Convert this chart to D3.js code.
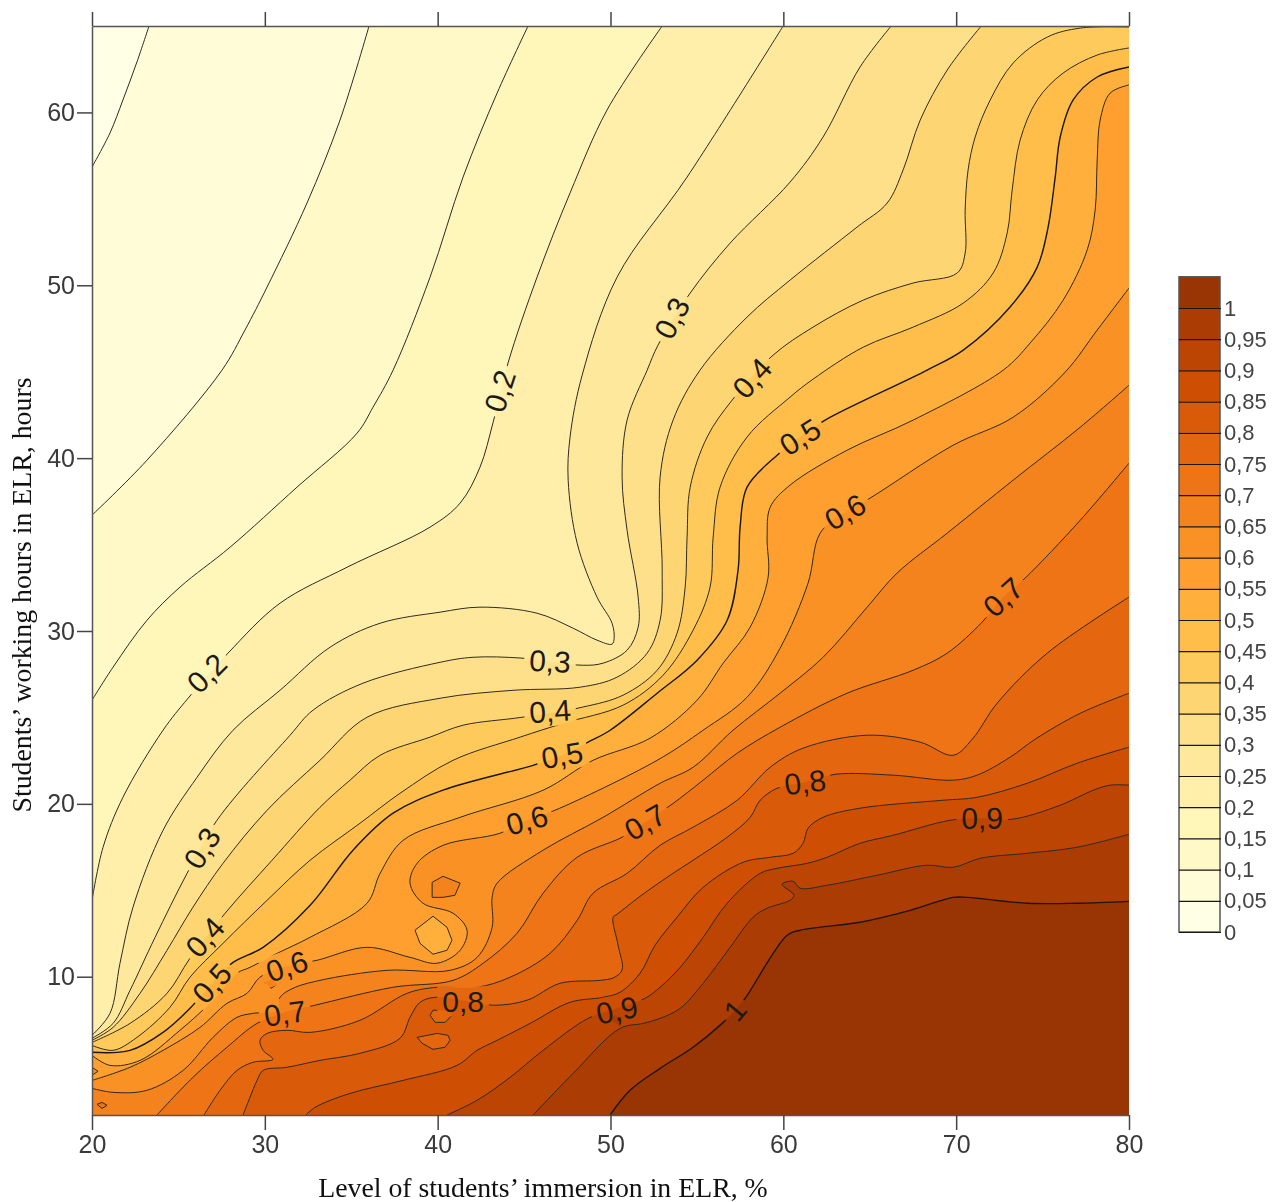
<!DOCTYPE html>
<html>
<head>
<meta charset="utf-8">
<script src="https://cdn.jsdelivr.net/npm/d3@7"></script>
<style>
    html, body { margin: 0; padding: 0; background: #fff; }
    svg { display: block; filter: blur(0.45px); }
    .tick text { font-family: "Liberation Sans", Arial, sans-serif; }
    .contour { fill: none; stroke: #2e2a22; stroke-width: 1; }
    .contour.major { stroke: #1a1510; stroke-width: 1.4; }
    .clabel { font-family: "Liberation Sans", Arial, sans-serif; font-size: 30px; fill: #1d1a16; text-anchor: middle; dominant-baseline: central; }
    .axis-title { font-family: "Liberation Serif", "Times New Roman", serif; font-size: 27.8px; fill: #111; text-anchor: middle; }
</style>
</head>
<body>
<svg id="chart" width="1281" height="1202"></svg>
<script>
// Contour lines, [immersion %, working hours]
const line005 = [[20,56.84],[21.04,58.81],[21.79,60.72],[22.6,62.92],[23.3,65]];
const line010 = [[20,36.7],[23.18,39.88],[27.52,45.09],[28.85,47.41],[30.13,49.9],[32.44,54.76],[34.35,59.56],[36.03,65]];
const line015 = [[20,26],[21.22,27.91],[23.18,30.62],[25.09,32.54],[27.99,34.85],[31.86,38.32],[35.34,41.45],[36.26,42.95],[37.42,45.09],[39.56,50.47],[41.47,56.26],[43.44,61.12],[45.23,65]];
const line020 = [[20,14.42],[20.64,17.49],[21.79,20.38],[24.11,24.26],[25.56,26.11],[27.87,28.72],[30.88,31.61],[34.76,33.69],[39.56,36.01],[41.3,37.4],[42.45,39.48],[43.21,42.08],[44.07,45.5],[45.75,50.47],[47.66,55.34],[49.8,60.14],[52.99,65]];
const line025 = [[20,6.61],[21.04,7.88],[21.62,10.78],[22.37,14.02],[24.11,18.47],[26.08,21.54],[28.16,24.26],[30.88,26.57],[33.77,29.06],[36.67,30.45],[40.14,31.09],[42.45,31.38],[45.75,31.03],[47.84,30.16],[49.22,29.47],[50.09,29.24],[50.21,29.58],[50.09,30.45],[49.22,31.96],[48.07,35.08],[47.55,38.73],[47.66,41.22],[48.36,44.8],[50.38,50.47],[54.43,56.26],[59.99,65]];
const line030 = [[20,6.44],[21.22,7.3],[22.2,9.21],[23.65,12.28],[25.5,15.98],[27.23,19.05],[31.46,23.97],[32.79,25.42],[35.68,26.98],[40.14,28.19],[42.05,28.48],[44.88,28.43],[48.36,28.02],[49.57,28.14],[50.96,28.89],[51.6,30.22],[51.6,31.96],[50.96,35.83],[50.67,38.9],[50.96,42.2],[52.12,45.09],[52.75,46.54],[54.61,49.55],[56.92,52.44],[60.39,55.97],[62.3,58.58],[64.44,62.63],[66.24,65]];
const line035 = [[20,6.32],[21.22,7.07],[22.78,9.04],[24.34,11.53],[25.84,14.02],[27.58,16.56],[30.13,19.63],[33.19,22.52],[35.91,25.01],[40.14,26.11],[44.36,26.57],[48.24,26.75],[50.38,27.33],[52.12,28.72],[52.87,30.62],[52.99,33.52],[52.87,38.9],[53.62,42.2],[55.18,45.09],[57.9,48.16],[60.39,50.3],[64.27,53.37],[66.01,54.76],[66.93,56.67],[67.92,59.56],[69.48,62.45],[71.45,65]];
const line040 = [[20,6.2],[22.2,7.3],[24.34,9.04],[25.67,11.07],[27.7,13.67],[30.42,16.74],[33.19,19.8],[34.93,21.37],[36.67,22.81],[39.56,23.86],[41.47,24.55],[44.88,25.01],[48.36,25.59],[50.73,26.29],[52.7,27.73],[53.85,29.87],[54.32,32.54],[54.43,35.43],[54.61,38.32],[55.59,41.22],[57.04,43.36],[59.41,45.96],[61.72,47.58],[64.62,49.14],[67.51,50.13],[70.06,50.71],[70.52,51.86],[70.52,54.35],[70.69,56.67],[71.1,58.58],[71.97,60.72],[73.3,62.86],[75.27,64.36],[77.18,64.88],[80,64.94]];
const line045 = [[20,6.03],[21.22,5.74],[22.6,6.49],[24.51,8.23],[25.67,9.97],[27.58,11.93],[30.13,14.42],[32.62,16.74],[35.51,18.88],[37.82,20.61],[40.89,22.52],[44.77,23.86],[47.26,24.66],[50.73,25.71],[53.04,27.44],[54.78,30.05],[55.76,32.54],[55.94,35.43],[56.34,38.32],[57.9,41.22],[60.39,43.53],[61.72,44.57],[64.62,46.42],[67.51,47.58],[70.41,48.97],[72.14,50.71],[72.95,53.02],[73.24,55.51],[73.7,58.4],[74.69,60.72],[76.19,62.28],[78.16,63.32],[80,63.73]];
const line050 = [[20,5.63],[22.2,5.74],[24.11,6.78],[25.67,8.17],[26.94,9.62],[28.16,10.83],[29.9,11.7],[32.62,14.13],[35.1,17.32],[37.42,19.46],[40.31,20.79],[45.52,22.23],[47.2,22.81],[48.7,23.57],[49.98,24.26],[52.7,26.4],[55.01,28.31],[56.75,30.62],[57.38,33.52],[57.5,36.01],[57.9,38.32],[59.64,40.17],[60.97,41.22],[62.42,42.2],[68.32,45.09],[70.41,46.25],[73.12,48.74],[74.69,51.05],[75.32,53.37],[75.73,56.26],[76.02,58.58],[76.77,60.72],[78.16,62.05],[80,62.63]];
const line055 = [[20,5.45],[21.04,4.87],[22.78,5.16],[25.09,6.9],[27,8.64],[28.39,10.2],[29.14,10.54],[30.71,11.35],[32.62,12.28],[35.91,14.25],[36.67,15.98],[38,17.89],[41.3,19.22],[46.1,20.79],[48.99,22.52],[52.29,23.8],[55.01,26],[56.52,28.14],[58.08,30.22],[59.12,33.11],[59.06,35.43],[59.24,37.16],[60.39,38.44],[63.69,40.46],[67.51,42.2],[72.72,45.09],[74.28,46.66],[76.19,49.14],[77.58,52.04],[78.04,54.35],[78.16,57.25],[78.33,59.56],[78.91,61.12],[80,61.59]];
const line060 = [[20,4],[22.2,4.76],[24.11,5.74],[26.25,7.07],[27.81,8.46],[28.97,9.04],[29.72,9.97],[31.28,10.6],[33.02,10.95],[35.91,11.7],[38.4,11.12],[39.97,10.78],[41.3,11.53],[41.7,12.69],[40.89,13.67],[39.15,14.25],[38.4,15.41],[38.81,16.56],[40.31,17.6],[43.61,18.3],[45.17,19.05],[46.79,19.63],[52.7,22.52],[55.36,24.26],[57.9,26.17],[59.81,29],[61.43,32.77],[62.13,35.66],[63.58,36.88],[65.02,37.69],[69.83,40.75],[73.3,42.37],[76.31,44.98],[78.16,47.41],[80,49.84]];
const line065 = [[20,3.54],[21.22,3.31],[23.18,3.43],[25.27,4.58],[27,6.49],[28.39,7.65],[29.32,7.88],[30.71,8.06],[30.88,8.81],[31.63,9.33],[33.19,9.79],[37.07,10.37],[40.72,10.37],[42.28,11.12],[43.15,12.86],[43.15,14.59],[43.44,15.41],[46.1,17.32],[49.57,19.22],[52.87,21.19],[54.78,22.12],[57.09,24.26],[59.81,26.4],[62.3,28.48],[64.85,31.38],[66.58,33.35],[69.48,35.66],[73.3,38.73],[77.18,41.79],[80,44.22]];
const line070 = [[23.76,2],[25.84,4.18],[27.81,5.92],[29.55,7.3],[31.17,7.94],[32.9,8.35],[37.42,9.39],[40.89,9.79],[42.63,10.78],[44.59,12.51],[46.1,14.83],[48.07,16.91],[50.67,18.07],[52,18.94],[53.56,19.98],[55.36,21.37],[57.33,22.93],[59.81,24.43],[63.69,26.4],[67.51,27.73],[69.48,28.72],[71.5,30.51],[72.72,31.96],[73.99,33.06],[77.18,36.41],[80,39.71]];
const line075 = [[26.48,2],[27.41,3.43],[28.39,4.58],[29.32,5.05],[30.47,5.22],[29.9,5.74],[29.72,6.32],[30.13,6.72],[31.28,6.9],[32.62,6.78],[35.51,7.48],[38.23,9.04],[39.97,9.39],[42.28,9.39],[44.19,9.97],[46.5,11.35],[48.07,13.26],[48.99,14.83],[50.96,15.98],[52.87,17.6],[54.78,18.65],[57.33,20.21],[59.24,22.12],[61.14,23.22],[64.85,23.97],[67.92,23.57],[69.83,22.81],[70.93,23.74],[72.37,25.82],[75.27,28.72],[80,31.96]];
const line080 = [[28.74,2],[29.14,3.02],[29.55,4],[29.9,4.58],[31.28,4.76],[33.19,5.16],[35.51,5.57],[37.82,6.44],[38.4,7.65],[38.98,8.52],[39.85,8.81],[41.41,8.64],[43.21,8.35],[45.17,8.64],[47.08,9.62],[49.4,9.79],[50.2,9.95],[50.67,10.4],[50.44,11.82],[50.15,13.44],[50.38,13.61],[51.71,14.65],[53.45,15.87],[54.78,16.74],[56.75,18.07],[58.08,19.22],[58.66,20.21],[59.64,20.9],[61.26,21.25],[63,21.71],[66.35,21.66],[69.83,21.37],[71.21,21.66],[73.12,22.7],[74.57,23.74],[77.18,25.24],[80,26.4]];
const line085 = [[32.38,2],[32.9,2.44],[34.93,3.25],[37.99,4],[41.12,4.87],[42.28,5.74],[43.44,6.32],[45.35,7.3],[47.66,8.52],[49.57,8.81],[50.55,9.1],[51.71,10.2],[52.58,11.82],[53.85,13.44],[55.36,15.17],[57.67,16.62],[59.24,16.91],[60.57,17.14],[61.14,17.72],[61.43,18.59],[62.3,19.22],[64.44,19.75],[69.25,20.21],[71.21,20.38],[74.11,21.19],[77,22.35],[80,23.28]];
const line090 = [[40.54,2],[42.28,2.85],[44.19,4.18],[46.1,5.74],[48.7,7.59],[50.38,8.17],[52,8.75],[52.87,9.39],[54.03,10.54],[55.36,12.28],[56.75,14.25],[58.66,15.98],[59.64,16.27],[61.38,16.56],[62.53,16.91],[64.44,17.72],[66.35,18.18],[69.65,19.05],[71.5,19.17],[73.24,19.11],[76.02,19.92],[77.93,20.79],[78.91,21.08],[80,21.08]];
const line095 = [[45.52,2],[47.84,4.41],[50.55,7.01],[51.89,7.3],[52.87,7.59],[54.03,8.17],[55.36,9.62],[56.92,11.7],[58.25,13.44],[59.06,13.96],[60.39,14.42],[60.62,14.71],[59.93,15.35],[60.57,15.52],[60.97,15.12],[62.53,15.29],[65.43,15.87],[68.32,16.45],[69.83,16.33],[71.39,16.85],[74.11,17.14],[77,17.49],[80,18.24]];
const line100 = [[49.98,2],[51.13,3.43],[52.87,4.7],[54.78,5.92],[56.46,7.3],[57.21,8.06],[57.79,8.75],[60.22,12.4],[60.97,12.69],[64.44,13.15],[67.34,13.84],[69.83,14.59],[70.64,14.59],[74.11,14.25],[77,14.25],[80,14.36]];

const contourLevels = [0.05, 0.1, 0.15, 0.2, 0.25, 0.3, 0.35, 0.4, 0.45, 0.5, 0.55, 0.6, 0.65, 0.7, 0.75, 0.8, 0.85, 0.9, 0.95, 1];
const contourLines = [line005, line010, line015, line020, line025, line030, line035, line040, line045, line050, line055, line060, line065, line070, line075, line080, line085, line090, line095, line100];

// Small closed contours, level is the lower edge of the band they show
const islandLevels = [0.65, 0.5, 0.75, 0.75, 0.6, 0.7, 0.65, 0.95];
const islandLines = [
    [[39.68,15.46],[40.31,15.81],[41.3,15.41],[41,14.71],[40.31,14.59],[39.68,14.59]],
    [[38.69,12.69],[39.73,13.5],[40.54,12.86],[40.83,12.11],[40.54,11.53],[39.73,11.3],[38.98,11.93]],
    [[39.73,8.06],[40.6,8.06],[40.83,7.77],[40.43,7.36],[39.85,7.36],[39.56,7.77]],
    [[38.81,6.49],[39.97,6.72],[40.6,6.61],[40.72,6.32],[40.43,5.92],[39.73,5.8],[39.1,6.15]],
    [[20,4.76],[20.35,4.53],[20,4.3]],
    [[20.29,2.62],[20.58,2.73],[20.87,2.56],[20.58,2.38]],
    [[30.01,9.68],[30.42,9.85],[30.71,9.56],[30.36,9.33]],
    [[49.98,7.48],[50.55,7.19],[50.67,7.59],[50.21,7.77]]
];

// Labels on the lines: text value, position, rotation
const labelValues = [0.2, 0.3, 0.4, 0.5, 0.6, 0.7, 0.2, 0.3, 0.4, 0.5, 0.6, 0.7, 0.8, 0.9, 0.3, 0.4, 0.5, 0.6, 0.7, 0.8, 0.9, 1];
const labelX = [43.61, 53.56, 58.19, 60.97, 63.58, 72.72, 26.65, 46.5, 46.5, 47.2, 45.17, 52, 61.26, 71.5, 26.37, 26.54, 26.94, 31.28, 31.17, 41.47, 50.38, 57.21];
const labelY = [43.88, 48.1, 44.63, 41.22, 36.88, 31.96, 27.56, 28.25, 25.36, 22.81, 19.05, 18.94, 21.25, 19.17, 17.43, 12.28, 9.62, 10.6, 7.88, 8.58, 8.06, 8.06];
const labelAngle = [-72, -62, -48, -32, -30, -42, -45, 3, -4, -10, -15, -30, -7, -1, -58, -48, -48, -18, -8, 0, -12, -50];

const xTicks = [20, 30, 40, 50, 60, 70, 80];
const yTicks = [10, 20, 30, 40, 50, 60];
const legendTicks = [0, 0.05, 0.1, 0.15, 0.2, 0.25, 0.3, 0.35, 0.4, 0.45, 0.5, 0.55, 0.6, 0.65, 0.7, 0.75, 0.8, 0.85, 0.9, 0.95, 1];
const paletteStops = ["#ffffe5", "#fff7bc", "#fee391", "#fec44f", "#fe9929", "#ec7014", "#cc4c02", "#993404"];

const xTitle = "Level of students’ immersion in ELR, %";
const yTitle = "Students’ working hours in ELR, hours";

const svg = d3.select("#chart");
const plot = { left: 92, right: 1129, top: 26, bottom: 1115 };

const x = d3.scaleLinear().domain([20, 80]).range([plot.left, plot.right]);
const y = d3.scaleLinear().domain([2, 65]).range([plot.bottom, plot.top]);
const comma = v => String(v).replace(".", ",");

// 21 bands spread evenly over the palette stops
const colorOf = d3.scaleLinear()
    .domain(paletteStops.map((_, i) => i / (paletteStops.length - 1)))
    .range(paletteStops);

const line = d3.line()
    .x(d => x(d[0]))
    .y(d => y(d[1]))
    .curve(d3.curveCatmullRom.alpha(0.5));
const closedLine = d3.line()
    .x(d => x(d[0]))
    .y(d => y(d[1]))
    .curve(d3.curveLinearClosed);

svg.append("clipPath").attr("id", "plot-clip")
    .append("rect")
    .attr("x", plot.left).attr("y", plot.top)
    .attr("width", plot.right - plot.left).attr("height", plot.bottom - plot.top);

const fills = svg.append("g").attr("clip-path", "url(#plot-clip)");

fills.append("rect")
    .attr("x", plot.left).attr("y", plot.top)
    .attr("width", plot.right - plot.left).attr("height", plot.bottom - plot.top)
    .attr("fill", colorOf(0));

// Each band covers everything below and right of its line, darker ones paint over it
contourLines.forEach((pts, i) => {
    const start = pts[0], end = pts[pts.length - 1];
    let tail = "";
    if (end[0] < 80) tail += `L${x(80)},${y(65)}`;
    tail += `L${x(80)},${y(2)}`;
    if (start[0] === 20) tail += `L${x(20)},${y(2)}`;
    fills.append("path")
        .attr("d", line(pts) + tail + "Z")
        .attr("fill", colorOf(contourLevels[i]));
});

islandLines.forEach((pts, i) => {
    fills.append("path")
        .attr("d", closedLine(pts))
        .attr("fill", colorOf(islandLevels[i]));
});

const lines = svg.append("g")
    .attr("clip-path", "url(#plot-clip)")
    .append("g")
    .attr("mask", "url(#label-gaps)");

// Labels, the mask that breaks the lines needs their measured width
const labels = svg.append("g");
const labelNodes = labels.selectAll("text")
    .data(labelValues)
    .join("text")
    .attr("class", "clabel")
    .attr("transform", (d, i) => `translate(${x(labelX[i])},${y(labelY[i])}) rotate(${labelAngle[i]})`)
    .text(d => comma(d));

const mask = svg.append("mask").attr("id", "label-gaps")
    .attr("maskUnits", "userSpaceOnUse")
    .attr("x", 0).attr("y", 0).attr("width", 1281).attr("height", 1202);
mask.append("rect").attr("width", 1281).attr("height", 1202).attr("fill", "#fff");
labelNodes.each(function (d, i) {
    const w = this.getComputedTextLength() + 10;
    mask.append("rect")
        .attr("x", -w / 2).attr("y", -15).attr("width", w).attr("height", 30)
        .attr("transform", `translate(${x(labelX[i])},${y(labelY[i])}) rotate(${labelAngle[i]})`)
        .attr("fill", "#000");
});

lines.selectAll(".line")
    .data(contourLines)
    .join("path")
    .attr("class", (d, i) => (contourLevels[i] === 0.5 || contourLevels[i] === 1) ? "contour major" : "contour")
    .attr("d", line);

lines.selectAll(".island")
    .data(islandLines)
    .join("path")
    .attr("class", "contour")
    .attr("d", closedLine);

// Axes
function styleAxis(g, fontSize) {
    g.selectAll(".domain").attr("stroke", "#555").attr("stroke-width", 1.5);
    g.selectAll(".tick line").attr("stroke", "#444").attr("stroke-width", 1.5);
    g.selectAll(".tick text").attr("fill", "#3a3a3a").style("font-size", fontSize + "px");
}

svg.append("g")
    .attr("transform", `translate(0,${plot.bottom})`)
    .call(d3.axisBottom(x).tickValues(xTicks).tickSize(15).tickPadding(5).tickSizeOuter(0))
    .call(styleAxis, 25);

svg.append("g")
    .attr("transform", `translate(0,${plot.top})`)
    .call(d3.axisTop(x).tickValues(xTicks).tickSize(14).tickFormat("").tickSizeOuter(0))
    .call(styleAxis, 25);

svg.append("g")
    .attr("transform", `translate(${plot.left},0)`)
    .call(d3.axisLeft(y).tickValues(yTicks).tickSize(15).tickPadding(2).tickSizeOuter(0))
    .call(styleAxis, 25);

svg.append("text").attr("class", "axis-title")
    .attr("x", 543).attr("y", 1197)
    .text(xTitle);

svg.append("text").attr("class", "axis-title")
    .attr("transform", "translate(31,595) rotate(-90)")
    .text(yTitle);

// Colour legend
const legend = { left: 1179, width: 41, zero: 932, one: 308 };
const legendY = d3.scaleLinear().domain([0, 1]).range([legend.zero, legend.one]);

svg.append("g").selectAll("rect")
    .data(legendTicks)
    .join("rect")
    .attr("x", legend.left)
    .attr("width", legend.width)
    .attr("y", d => legendY(d + 0.05))
    .attr("height", d => legendY(d) - legendY(d + 0.05))
    .attr("fill", d => colorOf(d));

svg.append("rect")
    .attr("x", legend.left).attr("y", legendY(1.05))
    .attr("width", legend.width).attr("height", legendY(0) - legendY(1.05))
    .attr("fill", "none").attr("stroke", "#555").attr("stroke-width", 1.5);

svg.append("g")
    .attr("transform", `translate(${legend.left},0)`)
    .call(d3.axisRight(legendY).tickValues(legendTicks).tickSize(legend.width + 1).tickPadding(3).tickFormat(comma).tickSizeOuter(0))
    .call(g => g.select(".domain").remove())
    .call(g => g.selectAll(".tick line").attr("stroke", "#1a1510").attr("stroke-width", 1.2))
    .call(g => g.selectAll(".tick text").attr("fill", "#444").style("font-size", "22px"));
</script>
</body>
</html>
